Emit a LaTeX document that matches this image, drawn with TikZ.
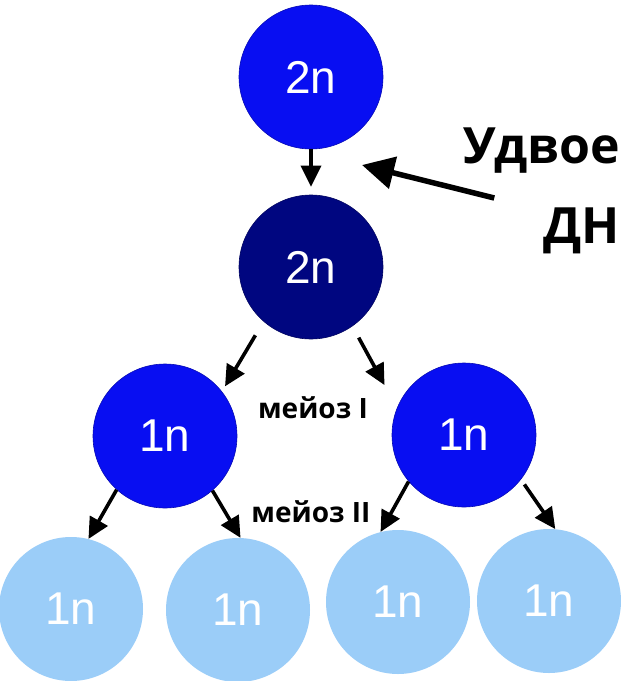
\documentclass[tikz,border=0pt]{standalone}
\usepackage{fontspec}
\setmainfont{Liberation Sans}
\newfontfamily\labfont{Open Sans}
\usetikzlibrary{arrows.meta}
\definecolor{cellblue}{RGB}{8,14,242}
\definecolor{cellnavy}{RGB}{0,6,128}
\definecolor{celllight}{RGB}{155,205,248}
\tikzset{
    cell/.style={
        circle,              % round cell
        minimum size=144pt,  % cell diameter
        inner sep=0pt,
        text=white,
        font=\fontsize{46}{50}\selectfont
    },
    darkrim/.style={draw=#1!75!black, line width=0.6pt},
    arr/.style={-{Triangle[length=21pt,width=20pt]}, line width=3.6pt, black},
    bigarr/.style={-{Triangle[length=32pt,width=32pt]}, line width=5.5pt, black},
    steplab/.style={font=\labfont\bfseries\fontsize{28}{32}\selectfont},
    biglab/.style={font=\labfont\bfseries\fontsize{50}{80}\selectfont, align=right, inner sep=0pt}
}
\begin{document}
\begin{tikzpicture}[x=1pt, y=-1pt]

\useasboundingbox (0,0) rectangle (621,681);
\fill[white] (0,0) rectangle (621,681);

% cells
\node[cell, fill=cellblue, darkrim=cellblue] (top) at (311,77) {2n};
\node[cell, fill=cellnavy, darkrim=cellnavy] (dup) at (311,267) {2n};
\node[cell, fill=cellblue, darkrim=cellblue] (ml) at (165,436) {1n};
\node[cell, fill=cellblue, darkrim=cellblue] (mr) at (464,435) {1n};
\node[cell, fill=celllight] (g1) at (71,609) {1n};
\node[cell, fill=celllight] (g2) at (238,610) {1n};
\node[cell, fill=celllight] (g3) at (398,602) {1n};
\node[cell, fill=celllight] (g4) at (549,601) {1n};

% labels
\node[steplab] (mI) at (313,408) {мейоз I};
\node[steplab] (mII) at (311,512) {мейоз II};
\node[biglab, anchor=east] (dnk) at (620,191) {Удвое\\ДН};
\coordinate (dupin) at (362,165);

% arrows
\draw[arr, shorten >=8pt] (top.south) -- (dup.north);
\draw[arr, shorten <=16pt, shorten >=6pt] (dup.229) -- (ml.38);
\draw[arr, shorten <=13pt, shorten >=26pt] (dup.305) -- (mr.158);
\draw[arr] (ml.228) -- (g1.76);
\draw[arr] (ml.311) -- (g2.88);
\draw[arr] (mr.220) -- (g3.104);
\draw[arr, shorten <=6pt] (mr.322) -- (g4.85);
\draw[bigarr] ([xshift=31pt, yshift=-7pt]dnk.west) -- (dupin);

\end{tikzpicture}
\end{document}
